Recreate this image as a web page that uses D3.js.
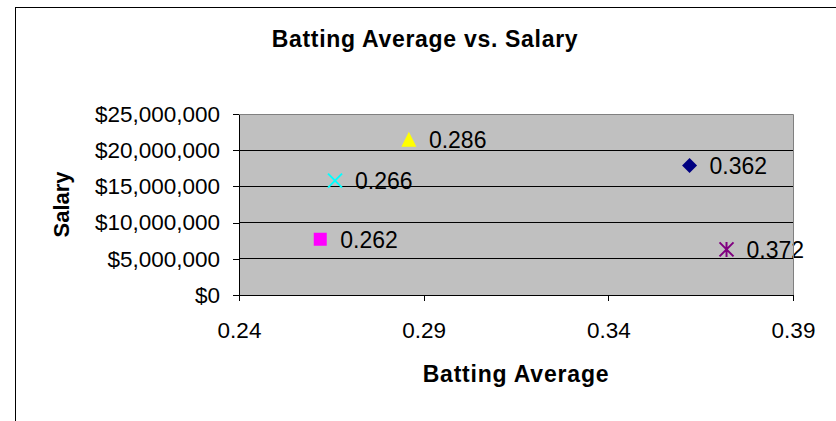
<!DOCTYPE html>
<html>
<head>
<meta charset="utf-8">
<script src="https://cdn.jsdelivr.net/npm/d3@7"></script>
<style>
  html, body { margin: 0; padding: 0; background: #fff; }
  svg { display: block; font-family: "Liberation Sans", Arial, sans-serif; }
</style>
</head>
<body>
<svg id="chart" width="836" height="421"></svg>
<script>
// data
var battingAvg = [0.362, 0.262, 0.286, 0.266, 0.372];
var salary = [17900000, 7700000, 21500000, 15800000, 6300000];
var pointLabels = ["0.362", "0.262", "0.286", "0.266", "0.372"];
var markerShapes = ["diamond", "square", "triangle", "x", "asterisk"];
var markerColors = ["#000080", "#FF00FF", "#FFFF00", "#00FFFF", "#800080"];
var xTicks = [0.24, 0.29, 0.34, 0.39];
var yTicks = [0, 5000000, 10000000, 15000000, 20000000, 25000000];

(function () {
  var svg = d3.select("#chart");
  var plotLeft = 239, plotRight = 793, plotTop = 114, plotBottom = 295;

  var x = d3.scaleLinear().domain([0.24, 0.39]).range([plotLeft, plotRight]);
  var y = d3.scaleLinear().domain([0, 25000000]).range([plotBottom, plotTop]);

  // outer chart border (runs off the right and bottom of the picture)
  svg.append("rect")
    .attr("x", 15.5).attr("y", 7.5)
    .attr("width", 900).attr("height", 500)
    .attr("fill", "#fff").attr("stroke", "#000").attr("stroke-width", 1);

  // plot area
  svg.append("rect")
    .attr("x", plotLeft).attr("y", plotTop)
    .attr("width", plotRight - plotLeft).attr("height", plotBottom - plotTop)
    .attr("fill", "#C0C0C0")
    .attr("shape-rendering", "crispEdges");

  // gridlines
  svg.append("g")
    .selectAll("line")
    .data(yTicks.slice(1, -1))
    .enter().append("line")
      .attr("x1", plotLeft).attr("x2", plotRight)
      .attr("y1", function(d) { return y(d); })
      .attr("y2", function(d) { return y(d); })
      .attr("stroke", "#000")
      .attr("shape-rendering", "crispEdges");

  var yAxis = svg.append("g")
    .attr("transform", "translate(" + plotLeft + ",0)")
    .call(d3.axisLeft(y).tickValues(yTicks).tickSize(6).tickSizeOuter(0)
      .tickPadding(13).tickFormat(d3.format("$,.0f")));

  var xAxis = svg.append("g")
    .attr("transform", "translate(0," + plotBottom + ")")
    .call(d3.axisBottom(x).tickValues(xTicks).tickSize(6).tickSizeOuter(0)
      .tickPadding(21).tickFormat(d3.format(".2f")));

  [yAxis, xAxis].forEach(function(a) {
    a.selectAll("path, line").attr("stroke", "#000").attr("shape-rendering", "crispEdges");
    a.selectAll("text").attr("fill", "#000")
      .style("font-size", "22.5px")
      .style("font-family", "'Liberation Sans', Arial, sans-serif");
  });

  // marker shapes
  function markerPath(shape) {
    var p = d3.path();
    if (shape === "diamond") {
      p.moveTo(0, -7.5); p.lineTo(7.5, 0); p.lineTo(0, 7.5); p.lineTo(-7.5, 0); p.closePath();
    } else if (shape === "square") {
      p.rect(-6.5, -6.5, 13, 13);
    } else if (shape === "triangle") {
      p.moveTo(0, -7.5); p.lineTo(7.5, 7.5); p.lineTo(-7.5, 7.5); p.closePath();
    } else if (shape === "x") {
      p.moveTo(-7, -7); p.lineTo(7, 7); p.moveTo(7, -7); p.lineTo(-7, 7);
    } else {
      p.moveTo(-7, -7); p.lineTo(7, 7); p.moveTo(7, -7); p.lineTo(-7, 7);
      p.moveTo(0, -7.5); p.lineTo(0, 7.5);
    }
    return p.toString();
  }

  function isLine(i) { return markerShapes[i] === "x" || markerShapes[i] === "asterisk"; }

  var points = d3.range(battingAvg.length);

  svg.append("g")
    .selectAll("path")
    .data(points)
    .enter().append("path")
      .attr("transform", function(i) { return "translate(" + x(battingAvg[i]) + "," + y(salary[i]) + ")"; })
      .attr("d", function(i) { return markerPath(markerShapes[i]); })
      .attr("fill", function(i) { return isLine(i) ? "none" : markerColors[i]; })
      .attr("stroke", function(i) { return isLine(i) ? markerColors[i] : "none"; })
      .attr("stroke-width", 2);

  // data labels
  svg.append("g")
    .selectAll("text")
    .data(points)
    .enter().append("text")
      .attr("x", function(i) { return x(battingAvg[i]) + 20; })
      .attr("y", function(i) { return y(salary[i]); })
      .attr("dy", "0.36em")
      .style("font-size", "23px")
      .attr("fill", "#000")
      .text(function(i) { return pointLabels[i]; });

  // gray plot border on top and right, drawn over the labels like the original
  svg.append("path")
    .attr("d", "M" + plotLeft + "," + (plotTop + 0.5) + "H" + (plotRight + 0.5) + "V" + plotBottom)
    .attr("fill", "none").attr("stroke", "#808080");

  // titles
  svg.append("text")
    .attr("x", 425).attr("y", 47)
    .attr("text-anchor", "middle")
    .style("font-size", "23px").style("font-weight", "bold")
    .style("letter-spacing", "0.7px")
    .text("Batting Average vs. Salary");

  svg.append("text")
    .attr("x", (plotLeft + plotRight) / 2).attr("y", 382)
    .attr("text-anchor", "middle")
    .style("font-size", "23px").style("font-weight", "bold")
    .style("letter-spacing", "0.8px")
    .text("Batting Average");

  svg.append("text")
    .attr("transform", "translate(69," + (plotTop + plotBottom) / 2 + ") rotate(-90)")
    .attr("text-anchor", "middle")
    .style("font-size", "22px").style("font-weight", "bold")
    .text("Salary");
}());
</script>
</body>
</html>
